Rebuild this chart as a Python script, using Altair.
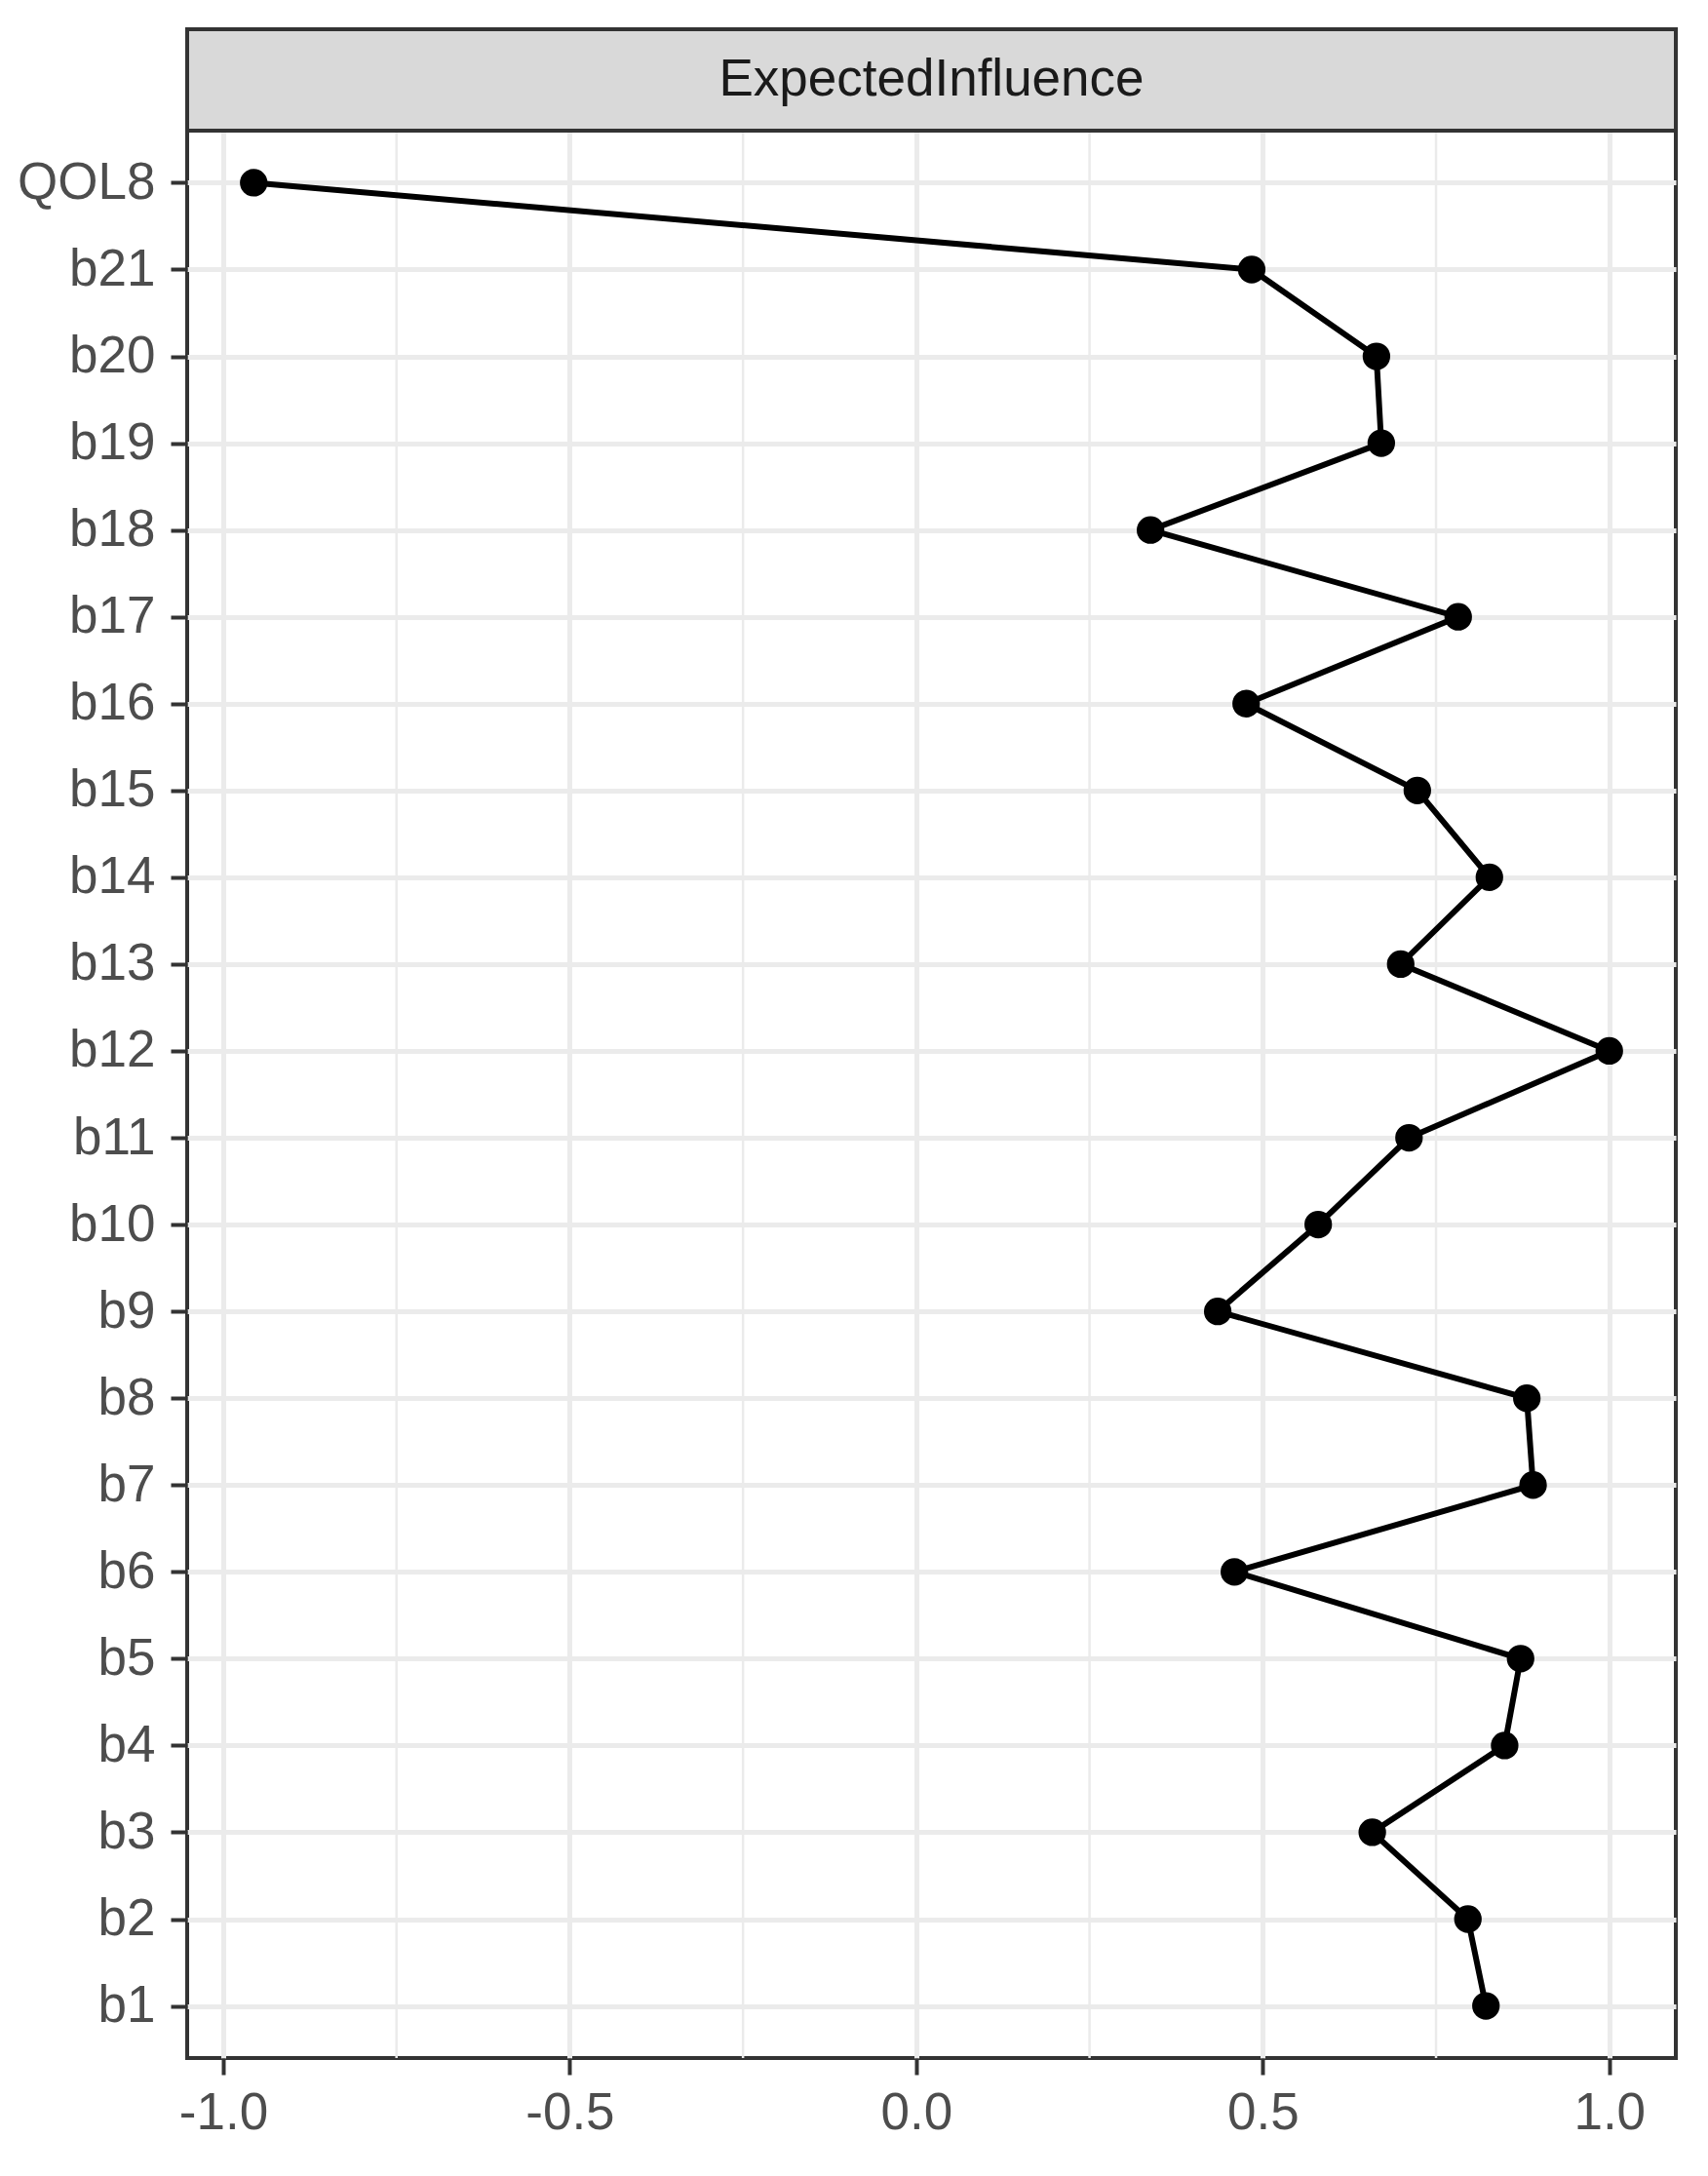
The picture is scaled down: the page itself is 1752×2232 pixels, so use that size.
import altair as alt
import pandas as pd

nodes = ["QOL8", "b21", "b20", "b19", "b18", "b17", "b16", "b15", "b14", "b13", "b12",
         "b11", "b10", "b9", "b8", "b7", "b6", "b5", "b4", "b3", "b2", "b1"]
values = [-0.956, 0.484, 0.664, 0.671, 0.338, 0.782, 0.476, 0.723, 0.827, 0.699, 1.0,
          0.711, 0.580, 0.435, 0.881, 0.890, 0.459, 0.872, 0.849, 0.658, 0.796, 0.822]
major_ticks = [-1.0, -0.5, 0.0, 0.5, 1.0]
minor_ticks = [-0.75, -0.25, 0.25, 0.75]
strip_label = ["ExpectedInfluence"]

W, H = 1527, 1977
STRIP_H = 104
FONT = "Liberation Sans"

df = pd.DataFrame({"node": nodes, "value": values, "idx": list(range(len(nodes)))})
minor_df = pd.DataFrame({"v": minor_ticks})
strip_df = pd.DataFrame({"label": strip_label})

xscale = alt.Scale(domain=[-1.052, 1.096], nice=False, zero=False)
yscale = alt.Scale(type="point", padding=0.6)

x_axis = alt.Axis(values=major_ticks, title=None, labelFontSize=53,
                  labelExpr="datum.value < 0 ? '-' + format(-datum.value, '.1f') : format(datum.value, '.1f')",
                  labelColor="#4D4D4D", tickColor="#333333", tickSize=17, tickWidth=4,
                  labelPadding=13, domain=False, grid=True, gridColor="#EBEBEB",
                  gridWidth=5, labelFont=FONT)
y_axis = alt.Axis(title=None, labelFontSize=53, labelColor="#4D4D4D", tickColor="#333333",
                  tickSize=17, tickWidth=4, labelPadding=16, domain=False, grid=True,
                  gridColor="#EBEBEB", gridWidth=5, labelFont=FONT)

minor = alt.Chart(minor_df).mark_rule(color="#EBEBEB", strokeWidth=2.5).encode(
    x=alt.X("v:Q", scale=xscale, axis=x_axis)
)

base = alt.Chart(df).encode(
    x=alt.X("value:Q", scale=xscale, axis=x_axis),
    y=alt.Y("node:N", sort=nodes, scale=yscale, axis=y_axis),
)
line = base.mark_line(color="black", strokeWidth=6).encode(order=alt.Order("idx:Q"))
points = base.mark_circle(color="black", opacity=1, size=800)

strip_rect = alt.Chart(strip_df).mark_rect(fill="#D9D9D9", stroke="#333333", strokeWidth=4).encode(
    x=alt.value(0), x2=alt.value(W), y=alt.value(-STRIP_H), y2=alt.value(0)
)
strip_text = alt.Chart(strip_df).mark_text(fontSize=53, color="#1A1A1A", font=FONT,
                                           baseline="middle", align="center").encode(
    x=alt.value(W / 2), y=alt.value(-STRIP_H / 2), text="label:N"
)

chart = alt.layer(minor, line, points, strip_rect, strip_text).properties(
    width=W, height=H,
    padding={"left": 9, "top": 20, "right": 20, "bottom": 20},
).configure(
    font=FONT, background="white",
    view=alt.ViewConfig(stroke="#333333", strokeWidth=4, fill="white"),
)

chart.save("out.html", embed_options={"renderer": "svg", "actions": False})
